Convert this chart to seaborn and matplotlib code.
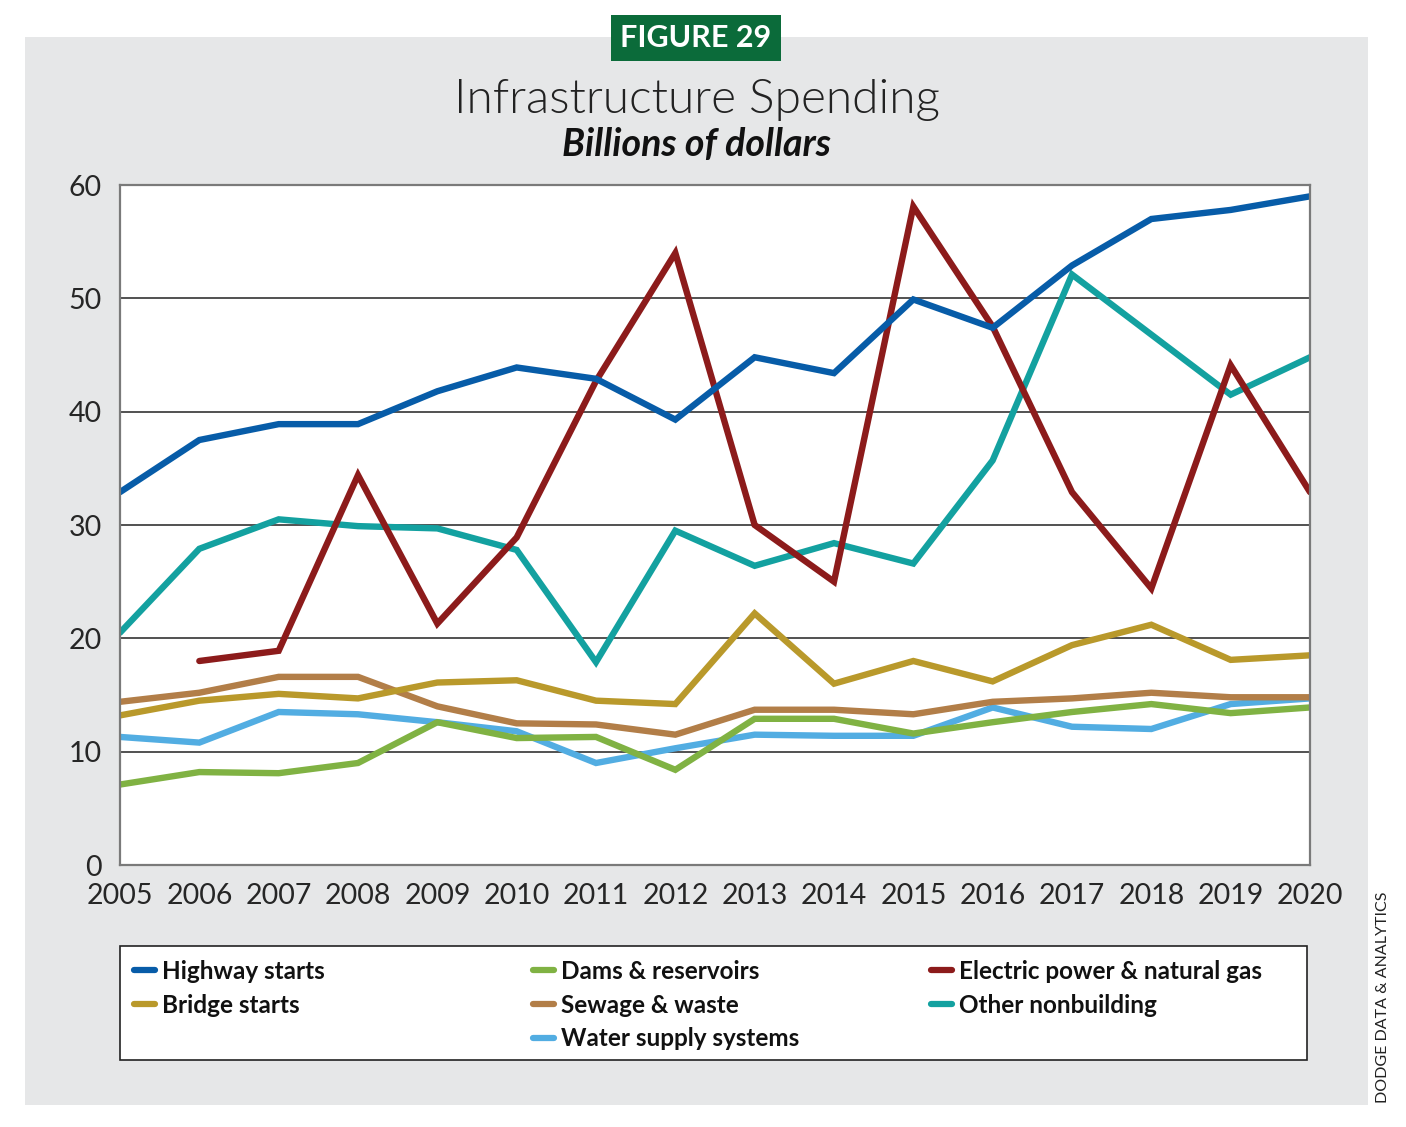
import numpy as np
import pandas as pd
import seaborn as sns
import matplotlib.pyplot as plt
from matplotlib.patches import Rectangle
from matplotlib.lines import Line2D

years = list(range(2005, 2021))
highway = [32.9, 37.5, 38.9, 38.9, 41.8, 43.9, 42.9, 39.3, 44.8, 43.4, 49.9, 47.4, 52.9, 57.0, 57.8, 59.0]
dams = [7.1, 8.2, 8.1, 9.0, 12.6, 11.2, 11.3, 8.4, 12.9, 12.9, 11.6, 12.6, 13.5, 14.2, 13.4, 13.9]
electric = [np.nan, 18.0, 18.9, 34.4, 21.3, 28.9, 42.7, 54.0, 30.0, 25.0, 58.1, 47.5, 32.9, 24.4, 44.1, 32.9]
bridge = [13.2, 14.5, 15.1, 14.7, 16.1, 16.3, 14.5, 14.2, 22.2, 16.0, 18.0, 16.2, 19.4, 21.2, 18.1, 18.5]
sewage = [14.4, 15.2, 16.6, 16.6, 14.0, 12.5, 12.4, 11.5, 13.7, 13.7, 13.3, 14.4, 14.7, 15.2, 14.8, 14.8]
other = [20.5, 27.9, 30.5, 29.9, 29.7, 27.8, 17.9, 29.5, 26.4, 28.4, 26.6, 35.7, 52.1, 46.8, 41.5, 44.8]
water = [11.3, 10.8, 13.5, 13.3, 12.6, 11.8, 9.0, 10.3, 11.5, 11.4, 11.4, 13.9, 12.2, 12.0, 14.2, 14.7]

series = {
    "Highway starts": highway,
    "Dams & reservoirs": dams,
    "Electric power & natural gas": electric,
    "Bridge starts": bridge,
    "Sewage & waste": sewage,
    "Other nonbuilding": other,
    "Water supply systems": water,
}
colors = {
    "Highway starts": "#075ca8",
    "Dams & reservoirs": "#80b243",
    "Electric power & natural gas": "#8c1b1b",
    "Bridge starts": "#b9992b",
    "Sewage & waste": "#b27e48",
    "Other nonbuilding": "#13a1a0",
    "Water supply systems": "#52ade2",
}

df = pd.concat([pd.DataFrame({"year": years, "value": v, "series": k})
                for k, v in series.items()]).dropna()

sns.set_style("white")
plt.rcParams['font.family'] = ['Lato', 'DejaVu Sans']

fig = plt.figure(figsize=(14.06, 11.27), dpi=100)
fig.patches.append(Rectangle((25/1406, 1-1105/1127), (1368-25)/1406, (1105-37)/1127,
                             transform=fig.transFigure, facecolor="#e6e7e8",
                             edgecolor="none", zorder=-1))

ax = fig.add_axes([120/1406, 1-865/1127, (1310-120)/1406, (865-185)/1127])
ax.set_facecolor("white")

# draw order: highway and electric on top
order = ["Other nonbuilding", "Water supply systems", "Dams & reservoirs", "Sewage & waste",
         "Bridge starts", "Electric power & natural gas", "Highway starts"]
for name in order:
    sns.lineplot(data=df[df.series == name], x="year", y="value", color=colors[name],
                 lw=4.6, ax=ax, legend=False, solid_joinstyle="miter")

ax.set_xlim(2005, 2020)
ax.set_ylim(0, 60)
ax.set_xticks(years)
ax.set_yticks(range(0, 61, 10))
ax.tick_params(axis="x", labelsize=20.5, pad=13, length=0)
ax.tick_params(axis="y", labelsize=20.5, pad=13, length=0)
ax.set_xlabel("")
ax.set_ylabel("")
for y in range(10, 60, 10):
    ax.axhline(y, color="#222222", lw=1.1, zorder=1)
for s in ax.spines.values():
    s.set_color("#7a7a7a")
    s.set_linewidth(1.6)

# header
fig.text(696/1406, 1-38/1127, "FIGURE 29", ha="center", va="center", color="white",
         fontsize=22, fontweight="bold",
         bbox=dict(boxstyle="square,pad=0.3", facecolor="#0b6b3a", edgecolor="none"))
fig.text(697/1406, 1-100/1127, "Infrastructure Spending", ha="center", va="center",
         fontsize=34.5, fontweight=300, color="#222222")
fig.text(697/1406, 1-145/1127, "Billions of dollars", ha="center", va="center",
         fontsize=27, fontweight="bold", fontstyle="italic", color="#111111")

# legend box
fig.patches.append(Rectangle((120/1406, 1-1060/1127), (1307-120)/1406, (1060-946)/1127,
                             transform=fig.transFigure, facecolor="white",
                             edgecolor="#222222", lw=1.2, zorder=1))
cols = [["Highway starts", "Bridge starts"],
        ["Dams & reservoirs", "Sewage & waste", "Water supply systems"],
        ["Electric power & natural gas", "Other nonbuilding"]]
col_x = [134, 533, 931]
for cx, names in zip(col_x, cols):
    handles = [Line2D([], [], color=colors[n], lw=4.5) for n in names]
    leg = fig.legend(handles, names, loc="upper left",
                     bbox_to_anchor=(cx/1406, 1-960/1127), frameon=False,
                     handlelength=0.85, handletextpad=0.3, labelspacing=0.44,
                     borderpad=0, borderaxespad=0, prop={"size": 17.5, "weight": "bold"})
    for t in leg.get_texts():
        t.set_color("#111111")

fig.text(1383/1406, 1-1103/1127, "DODGE DATA & ANALYTICS", rotation=90, ha="center",
         va="bottom", fontsize=11.5, color="#222222")

fig.savefig("out.png", dpi=100)
